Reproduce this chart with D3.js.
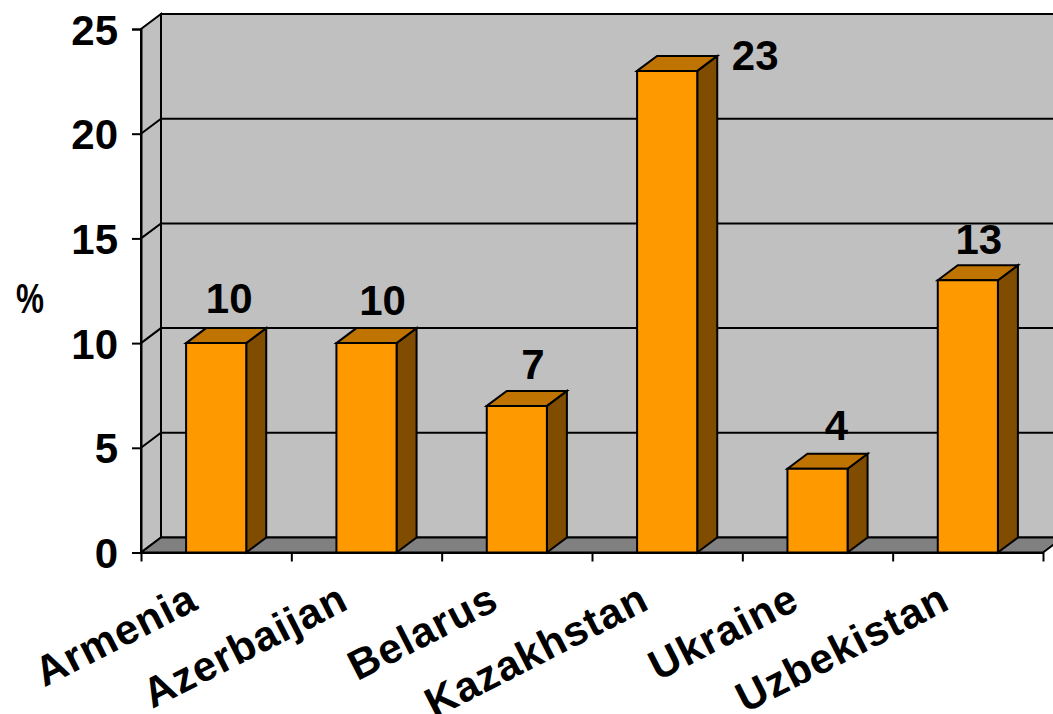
<!DOCTYPE html>
<html>
<head>
<meta charset="utf-8">
<script src="https://cdn.jsdelivr.net/npm/d3@7"></script>
<style>
  html, body { margin: 0; padding: 0; background: #fff; overflow: hidden; }
  text { font-family: "Liberation Sans", Arial, sans-serif; font-weight: bold; fill: #000; }
  .tickText { font-size: 42px; }
  .catText { font-size: 42px; letter-spacing: 1px; }
</style>
</head>
<body>
<div id="chart"></div>
<script>
// chart values
var categories = ['Armenia', 'Azerbaijan', 'Belarus', 'Kazakhstan', 'Ukraine', 'Uzbekistan'];
var values = [10, 10, 7, 23, 4, 13];
var yTicks = [0, 5, 10, 15, 20, 25];
var yTitle = '%';

// hand placed value labels, offset from bar centre / bar top
var labelDx = [13, 16, 16, 88, 19, 11];
var labelDy = [-45, -43, -42, -16, -44, -41];

var svgWidth = 1053;
var svgHeight = 714;

// oblique depth of the 3d box
var depthX = 20;
var depthY = -15;

var margin = { top: 29, right: 10, bottom: 161.5, left: 141 };
var chartRight = svgWidth - margin.right;
var chartBottom = svgHeight - margin.bottom;

var xScale = d3.scaleBand()
  .domain(categories)
  .range([margin.left, chartRight])
  .paddingInner(0.6)
  .paddingOuter(0.3);
var yScale = d3.scaleLinear().domain([0, 25]).range([chartBottom, margin.top]);
var step = xScale.step();
var barWidth = xScale.bandwidth();

var svg = d3.select('#chart').append('svg')
  .attr('width', svgWidth)
  .attr('height', svgHeight)
  .style('display', 'block');

function poly(points, fill) {
  return svg.append('polygon')
    .attr('points', points.map(p => p.join(',')).join(' '))
    .attr('fill', fill)
    .attr('stroke', '#000')
    .attr('stroke-width', 2)
    .attr('stroke-linejoin', 'miter');
}

var y0 = yScale(0);
var yTop = yScale(25);

// side wall, back wall, floor
poly([[margin.left, y0], [margin.left + depthX, y0 + depthY], [margin.left + depthX, yTop + depthY], [margin.left, yTop]], '#c0c0c0');
poly([[margin.left + depthX, y0 + depthY], [chartRight + depthX, y0 + depthY], [chartRight + depthX, yTop + depthY], [margin.left + depthX, yTop + depthY]], '#c0c0c0');
poly([[margin.left, y0], [margin.left + depthX, y0 + depthY], [chartRight + depthX, y0 + depthY], [chartRight, y0]], '#808080');

// gridlines
var grid = svg.append('g');
yTicks.slice(1, -1).forEach(function(t) {
  grid.append('polyline')
    .attr('points', [[margin.left, yScale(t)], [margin.left + depthX, yScale(t) + depthY], [chartRight + depthX, yScale(t) + depthY]].map(p => p.join(',')).join(' '))
    .attr('fill', 'none')
    .attr('stroke', '#000')
    .attr('stroke-width', 2);
});

// bars
categories.forEach(function(c, i) {
  var x0 = xScale(c);
  var x1 = x0 + barWidth;
  var top = yScale(values[i]);
  poly([[x1, y0], [x1 + depthX, y0 + depthY], [x1 + depthX, top + depthY], [x1, top]], '#7f4c00');
  poly([[x0, top], [x0 + depthX, top + depthY], [x1 + depthX, top + depthY], [x1, top]], '#bf7300');
  poly([[x0, y0], [x1, y0], [x1, top], [x0, top]], '#ff9900');
});

// y axis
var yAxis = d3.axisLeft(yScale).tickValues(yTicks).tickSize(9).tickPadding(14);
var yAxisG = svg.append('g')
  .attr('transform', `translate(${margin.left}, 0)`)
  .call(yAxis);
yAxisG.select('.domain').attr('stroke-width', 2);
yAxisG.selectAll('line').attr('stroke-width', 2);
yAxisG.selectAll('text')
  .attr('class', 'tickText')
  .attr('font-family', null)
  .attr('font-size', null)
  .attr('dy', '0.36em');

// x axis line and ticks between the categories
var boundaries = d3.range(categories.length + 1).map(i => margin.left + i * step);
var xEdge = d3.scaleLinear().domain([margin.left, chartRight]).range([margin.left, chartRight]);
var xAxisG = svg.append('g')
  .attr('transform', `translate(0, ${y0})`)
  .call(d3.axisBottom(xEdge).tickValues(boundaries).tickSize(9).tickSizeOuter(0).tickFormat(''));
xAxisG.select('.domain').attr('stroke-width', 2);
xAxisG.selectAll('line').attr('stroke-width', 2);

// category labels
svg.selectAll('.catText')
  .data(categories)
  .enter()
  .append('text')
  .attr('class', 'catText')
  .attr('text-anchor', 'end')
  .attr('transform', d => `translate(${xScale(d) + barWidth / 2 - 16}, 608) rotate(-27)`)
  .text(d => d);

// value labels
svg.selectAll('.valueText')
  .data(values)
  .enter()
  .append('text')
  .attr('class', 'tickText valueText')
  .attr('text-anchor', 'middle')
  .attr('dy', '0.36em')
  .attr('x', (d, i) => xScale(categories[i]) + barWidth / 2 + labelDx[i])
  .attr('y', (d, i) => yScale(d) + labelDy[i])
  .text(d => d);

// y axis title
svg.append('text')
  .attr('class', 'tickText')
  .attr('text-anchor', 'middle')
  .attr('x', 30)
  .attr('y', 313)
  .attr('textLength', 28)
  .attr('lengthAdjust', 'spacingAndGlyphs')
  .text(yTitle);
</script>
</body>
</html>
